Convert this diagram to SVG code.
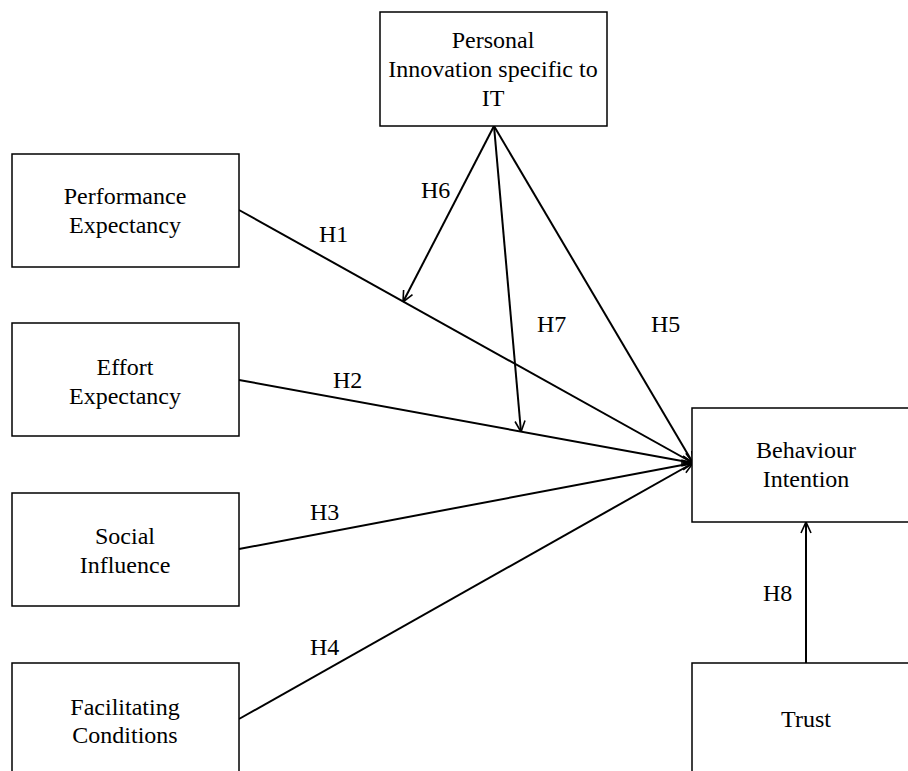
<svg xmlns="http://www.w3.org/2000/svg" width="908" height="771" viewBox="0 0 908 771">
<style>
.box{fill:#fff;stroke:#000;stroke-width:1.5}
.c{stroke:#000;stroke-width:2;fill:none}
</style>
<defs>
<marker id="arr" viewBox="0 0 12 12" refX="12" refY="6" markerWidth="12" markerHeight="12" markerUnits="userSpaceOnUse" orient="auto">
<path d="M1,1 L12,6 L1,11" fill="none" stroke="#000" stroke-width="1.6"/>
</marker>
</defs>
<rect width="908" height="771" fill="#fff"/>
<g id="connectors">
<line class="c" x1="239" y1="210" x2="693" y2="463" marker-end="url(#arr)"/>
<line class="c" x1="239" y1="380" x2="693" y2="463" marker-end="url(#arr)"/>
<line class="c" x1="239" y1="549" x2="693" y2="463" marker-end="url(#arr)"/>
<line class="c" x1="239" y1="719" x2="693" y2="463" marker-end="url(#arr)"/>
<line class="c" x1="494" y1="126" x2="693" y2="463" marker-end="url(#arr)"/>
<line class="c" x1="494" y1="126" x2="403" y2="302" marker-end="url(#arr)"/>
<line class="c" x1="494" y1="126" x2="521" y2="432" marker-end="url(#arr)"/>
<line class="c" x1="806" y1="663" x2="806" y2="522" marker-end="url(#arr)"/>
<g font-family="Liberation Serif, Times New Roman, serif" font-size="24" fill="#000">
<text x="319" y="242">H1</text>
<text x="333" y="388">H2</text>
<text x="310" y="520">H3</text>
<text x="310" y="655">H4</text>
<text x="651" y="332">H5</text>
<text x="421" y="198">H6</text>
<text x="537" y="332">H7</text>
<text x="763" y="601">H8</text>
</g>
</g>
<g font-family="Liberation Serif, Times New Roman, serif" font-size="24" fill="#000" text-anchor="middle">
<g id="personal">
<rect class="box" x="380" y="12" width="227" height="114"/>
<text x="493" y="48">Personal</text>
<text x="493" y="77">Innovation specific to</text>
<text x="493" y="106">IT</text>
</g>
<g id="performance">
<rect class="box" x="12" y="154" width="227" height="113"/>
<text x="125" y="204">Performance</text>
<text x="125" y="233">Expectancy</text>
</g>
<g id="effort">
<rect class="box" x="12" y="323" width="227" height="113"/>
<text x="125" y="375">Effort</text>
<text x="125" y="404">Expectancy</text>
</g>
<g id="social">
<rect class="box" x="12" y="493" width="227" height="113"/>
<text x="125" y="544">Social</text>
<text x="125" y="573">Influence</text>
</g>
<g id="facilitating">
<rect class="box" x="12" y="663" width="227" height="120"/>
<text x="125" y="715">Facilitating</text>
<text x="125" y="743">Conditions</text>
</g>
<g id="behaviour">
<rect class="box" x="692" y="408" width="227" height="114"/>
<text x="806" y="458">Behaviour</text>
<text x="806" y="487">Intention</text>
</g>
<g id="trust">
<rect class="box" x="692" y="663" width="227" height="120"/>
<text x="806" y="727">Trust</text>
</g>
</g>
</svg>
